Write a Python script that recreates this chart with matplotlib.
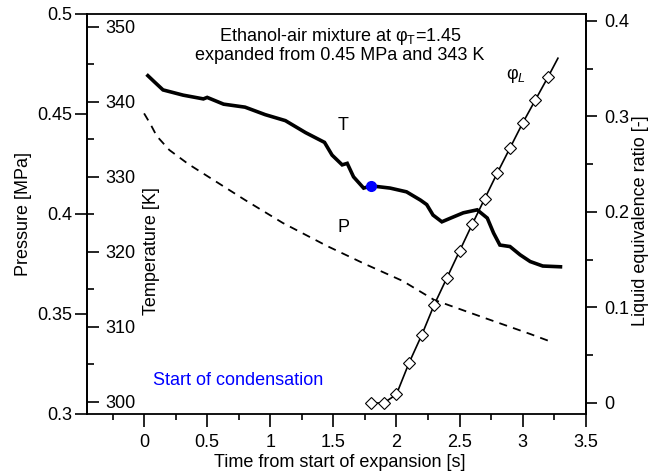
import matplotlib
matplotlib.use("Agg")
import matplotlib.pyplot as plt
from matplotlib.ticker import MultipleLocator, FuncFormatter

plt.rcParams['font.family'] = ['Liberation Sans', 'DejaVu Sans']
plt.rcParams['mathtext.fontset'] = 'custom'
plt.rcParams['mathtext.rm'] = 'Liberation Sans'
plt.rcParams['mathtext.it'] = 'Liberation Sans:italic'
plt.rcParams['font.size'] = 13

# temperature trace (s, K)
t_time = [0.03, 0.08, 0.15, 0.31, 0.47, 0.50, 0.63, 0.80, 0.96, 1.12, 1.28, 1.43, 1.49,
          1.57, 1.61, 1.66, 1.74, 1.80, 1.95, 2.08, 2.19, 2.24, 2.29, 2.36, 2.43, 2.53,
          2.64, 2.72, 2.77, 2.82, 2.90, 2.98, 3.06, 3.16, 3.30]
t_temp = [343.5, 342.7, 341.6, 340.9, 340.4, 340.6, 339.7, 339.3, 338.3, 337.5, 335.9, 334.6, 332.9,
          331.6, 331.8, 330.0, 328.5, 328.8, 328.5, 328.0, 326.9, 326.3, 324.9, 324.0, 324.5, 325.2,
          325.6, 324.5, 322.5, 320.9, 320.7, 319.6, 318.7, 318.1, 318.0]

# pressure trace (s, MPa)
p_time = [0.0, 0.05, 0.1, 0.2, 0.35, 0.5, 0.8, 1.1, 1.45, 1.75, 2.05, 2.3, 2.7, 3.06, 3.23]
p_pres = [0.4503, 0.445, 0.439, 0.432, 0.425, 0.419, 0.407, 0.3955, 0.384, 0.375, 0.3665,
          0.357, 0.348, 0.340, 0.336]

# liquid equivalence ratio
phi_time = [1.8, 1.9, 2.0, 2.1, 2.2, 2.3, 2.4, 2.5, 2.6, 2.7, 2.8, 2.9, 3.0, 3.1, 3.2]
phi_val = [0.0, 0.0, 0.009, 0.042, 0.071, 0.103, 0.131, 0.159, 0.187, 0.214, 0.241, 0.267,
           0.293, 0.317, 0.341]
phi_end_time = 3.28
phi_end_val = 0.361

# start of condensation
cond_time = 1.80
cond_temp = 328.8

fig = plt.figure(figsize=(6.52, 4.76), dpi=100)
ax = fig.add_axes([0.1339, 0.1303, 0.7644, 0.8403])

# pressure axis (left, ticks outward)
ax.plot(p_time, p_pres, color='black', lw=1.3, linestyle=(0, (4.5, 3.5)))
ax.set_xlim(-0.45, 3.5)
ax.set_ylim(0.3, 0.5)
ax.yaxis.set_major_locator(MultipleLocator(0.05))
ax.yaxis.set_major_formatter(FuncFormatter(lambda v, p: f'{v:g}'))
ax.xaxis.set_major_locator(MultipleLocator(0.5))
ax.xaxis.set_minor_locator(MultipleLocator(0.25))
ax.xaxis.set_major_formatter(FuncFormatter(lambda v, p: f'{v:g}' if v >= 0 else ''))
ax.tick_params(axis='y', direction='out', length=8.6, width=1.2, pad=2)
ax.tick_params(axis='x', which='major', direction='out', length=9, width=1.2, pad=5.5)
ax.tick_params(axis='x', which='minor', direction='out', length=4.5, width=1.2)
ax.set_ylabel('Pressure [MPa]')
ax.yaxis.set_label_coords(-0.111, 0.5)
ax.set_xlabel('Time from start of expansion [s]')
ax.xaxis.set_label_coords(0.507, -0.10)
for s in ax.spines.values():
    s.set_linewidth(1.3)

ax.text(0.507, 0.9425, 'Ethanol-air mixture at $\\mathrm{φ}_{\\mathrm{T}}$=1.45',
        transform=ax.transAxes, ha='center', va='center')
ax.text(0.507, 0.895, 'expanded from 0.45 MPa and 343 K',
        transform=ax.transAxes, ha='center', va='center')
ax.text(1.53, 0.393, 'P', ha='left', va='center')

# temperature axis (on left spine, ticks and labels inside)
axT = ax.twinx()
axT.spines['right'].set_position(('axes', 0))
for k in ['left', 'top', 'bottom']:
    axT.spines[k].set_visible(False)
axT.spines['right'].set_linewidth(1.3)
axT.plot(t_time, t_temp, color='black', lw=2.6, solid_joinstyle='miter')
axT.plot([cond_time], [cond_temp], 'o', color='#0000ff', ms=7, zorder=5)
axT.set_ylim(298.36, 351.73)
axT.yaxis.set_major_locator(MultipleLocator(10))
axT.yaxis.set_minor_locator(MultipleLocator(5))
axT.tick_params(axis='y', which='major', direction='out', length=8.6, width=1.2, pad=4.5)
axT.tick_params(axis='y', which='minor', direction='out', length=5, width=1.2)
axT.set_ylabel('Temperature [K]')
axT.yaxis.set_label_coords(0.112, 0.4075)
axT.text(1.53, 336.9, 'T', ha='left', va='center')
axT.text(0.07, 302.8, 'Start of condensation', color='#0000ff', ha='left', va='center')

# liquid equivalence ratio axis (right)
axL = ax.twinx()
for k in ['left', 'top', 'bottom']:
    axL.spines[k].set_visible(False)
axL.spines['right'].set_linewidth(1.3)
axL.plot(phi_time + [phi_end_time], phi_val + [phi_end_val], color='black', lw=1.2)
axL.plot(phi_time, phi_val, linestyle='none', marker='D', ms=6.5, mfc='white',
         mec='black', mew=0.8)
axL.set_ylim(-0.0115, 0.4073)
axL.yaxis.set_major_locator(MultipleLocator(0.1))
axL.yaxis.set_minor_locator(MultipleLocator(0.05))
axL.yaxis.set_major_formatter(FuncFormatter(lambda v, p: f'{v:g}'))
axL.tick_params(axis='y', which='major', direction='out', length=8.2, width=1.2, pad=5.5)
axL.tick_params(axis='y', which='minor', direction='out', length=5, width=1.2)
axL.set_ylabel('Liquid equivalence ratio [-]')
axL.yaxis.set_label_coords(1.092, 0.4825)
axL.text(2.87, 0.343, '$\\mathrm{φ}_{L}$', ha='left', va='center')

fig.savefig('out.png', dpi=100)
